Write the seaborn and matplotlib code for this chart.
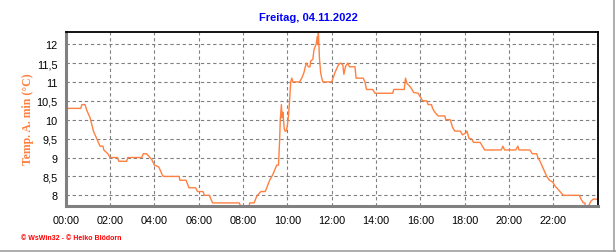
import numpy as np
import pandas as pd
import matplotlib
matplotlib.use("Agg")
import matplotlib.pyplot as plt
from matplotlib.lines import Line2D
from matplotlib.ticker import MultipleLocator
import seaborn as sns

title = "Freitag, 04.11.2022"
ylabel = "Temp. A. min (°C)"
footer = "© WsWin32 - © Heiko Blödorn"
xtick_labels = ["00:00", "02:00", "04:00", "06:00", "08:00", "10:00",
                "12:00", "14:00", "16:00", "18:00", "20:00", "22:00"]
ytick_values = [8, 8.5, 9, 9.5, 10, 10.5, 11, 11.5, 12]

hours = [0.0, 0.68, 0.73, 0.87, 0.95, 1.1, 1.25, 1.4, 1.55, 1.68, 1.72, 1.9, 2.0,
         2.33, 2.4, 2.75, 2.8, 3.43, 3.5, 3.65, 3.88, 4.0, 4.2, 4.35, 4.4, 5.12,
         5.15, 5.43, 5.56, 5.86, 5.95, 6.2, 6.25, 6.48, 6.55, 6.63, 7.83, 7.9,
         8.27, 8.3, 8.5, 8.6, 8.65, 8.8, 9.0, 9.07, 9.2, 9.3, 9.38, 9.52, 9.6,
         9.65, 9.68, 9.73, 9.76, 9.8, 9.86, 9.9, 9.95, 10.0, 10.05, 10.1, 10.15,
         10.2, 10.25, 10.55, 10.65, 10.75, 10.85, 10.95, 11.02, 11.05, 11.15,
         11.2, 11.3, 11.35, 11.38, 11.4, 11.45, 11.5, 11.55, 11.6, 12.0, 12.15,
         12.3, 12.4, 12.5, 12.55, 12.62, 12.72, 12.8, 13.05, 13.1, 13.42, 13.5,
         13.57, 13.85, 13.95, 14.75, 14.8, 15.27, 15.33, 15.4, 15.5, 15.6, 15.7,
         15.9, 16.0, 16.1, 16.28, 16.35, 16.5, 16.55, 16.65, 16.8, 17.1, 17.15,
         17.35, 17.45, 17.55, 17.8, 17.9, 18.05, 18.1, 18.15, 18.2, 18.3, 18.4,
         18.7, 18.8, 18.9, 19.65, 19.72, 19.8, 20.3, 20.4, 20.45, 20.94, 21.05,
         21.25, 21.3, 21.4, 21.55, 21.7, 21.82, 21.97, 22.07, 22.22, 22.3, 22.45,
         23.17, 23.25, 23.35, 23.42, 23.45, 23.57, 23.7, 23.8, 23.97]
temps = [10.3, 10.3, 10.4, 10.4, 10.25, 10.05, 9.7, 9.5, 9.3, 9.3, 9.2, 9.1, 9.0,
         9.0, 8.9, 8.9, 9.0, 9.0, 9.1, 9.1, 8.95, 8.8, 8.75, 8.55, 8.5, 8.5,
         8.4, 8.4, 8.2, 8.2, 8.1, 8.1, 8.0, 8.0, 7.9, 7.8, 7.8, 7.7,
         7.7, 7.8, 7.8, 7.95, 8.0, 8.1, 8.1, 8.2, 8.4, 8.5, 8.6, 8.8, 8.8,
         9.45, 10.0, 10.4, 10.05, 10.2, 9.75, 9.7, 9.7, 9.85, 10.1, 10.5, 11.0,
         11.1, 11.0, 11.0, 11.1, 11.25, 11.5, 11.4, 11.4, 11.55, 11.6,
         11.85, 12.0, 12.2, 12.0, 12.3, 11.6, 11.25, 11.1, 11.0, 11.0, 11.25,
         11.45, 11.5, 11.45, 11.2, 11.4, 11.5, 11.4, 11.4, 11.1, 11.1, 11.0,
         10.8, 10.8, 10.7, 10.7, 10.8, 10.8, 11.1, 10.95, 10.9, 10.82, 10.72,
         10.7, 10.6, 10.5, 10.5, 10.4, 10.4, 10.3, 10.2, 10.1, 10.1, 10.0,
         10.0, 9.8, 9.7, 9.7, 9.6, 9.65, 9.7, 9.6, 9.5, 9.5, 9.4,
         9.4, 9.3, 9.2, 9.2, 9.3, 9.2, 9.2, 9.3, 9.2, 9.2, 9.1,
         9.1, 9.0, 8.9, 8.7, 8.5, 8.4, 8.35, 8.25, 8.15, 8.1, 8.0,
         8.0, 7.9, 7.8, 7.8, 7.7, 7.7, 7.85, 7.9, 7.9]

df = pd.DataFrame({"hour": hours, "temp": temps})

sns.set_style("white")
plt.rcParams["font.family"] = ["Liberation Sans", "DejaVu Sans"]

fig = plt.figure(figsize=(6.16, 2.53), dpi=100)
ax = fig.add_axes([65.7 / 616, 1 - 207.3 / 253, (597.7 - 65.7) / 616, (207.3 - 33) / 253])

sns.lineplot(data=df, x="hour", y="temp", ax=ax, color="#FF8040", linewidth=1.0,
             estimator=None, sort=False)

ax.set_xlim(0, 24)
ax.set_ylim(7.71, 12.32)
ax.set_xticks(np.arange(0, 24, 2))
ax.set_xticklabels(xtick_labels)
ax.xaxis.set_minor_locator(MultipleLocator(0.5))
ax.set_yticks(ytick_values)
ax.set_yticklabels([str(v).replace(".", ",").replace(",0", "") for v in ytick_values])
ax.yaxis.set_minor_locator(MultipleLocator(0.1))

ax.grid(True, which="major", color="#808080", linestyle=(0, (3, 2.5)), linewidth=0.8)
ax.tick_params(axis="both", which="major", labelsize=7.8, colors="black",
               length=4, width=1, direction="out", color="#808080")
ax.tick_params(axis="both", which="minor", length=2.5, width=1, direction="out",
               color="#808080")
ax.tick_params(axis="x", pad=2)
ax.tick_params(axis="y", pad=2)

ax.set_xlabel("")
ax.set_ylabel("")
for side in ["left", "bottom"]:
    ax.spines[side].set_color("#808080")
    ax.spines[side].set_linewidth(2.2)
for side in ["top", "right"]:
    ax.spines[side].set_color("black")
    ax.spines[side].set_linewidth(1.3)
    ax.spines[side].set_visible(True)

fig.text(308 / 616, 1 - 18 / 253, title, ha="center", va="center",
         color="#0000FF", fontsize=8, fontweight="bold")
fig.text(28 / 616, 1 - 119 / 253, ylabel, ha="center", va="center", rotation=90,
         color="#FF8040", fontsize=8.5, fontweight="bold",
         family=["Liberation Serif", "DejaVu Serif"])
fig.text(21 / 616, 1 - 238.5 / 253, footer, ha="left", va="center",
         color="#FF0000", fontsize=5.0, fontweight="bold")

fig.add_artist(Line2D([0, 1], [1.5 / 253, 1.5 / 253], transform=fig.transFigure,
                      color="#A0A0A0", linewidth=1.2))
fig.add_artist(Line2D([613.5 / 616, 613.5 / 616], [0, 1], transform=fig.transFigure,
                      color="#A0A0A0", linewidth=1.2))

fig.savefig("out.png", dpi=100)
